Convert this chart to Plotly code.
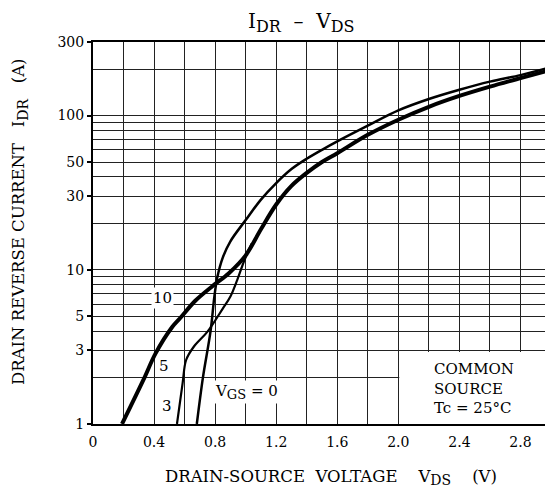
import plotly.graph_objects as go

# VGS = 10 / 5 (overlapping thick curve)
vds_10 = [0.19, 0.33, 0.41, 0.52, 0.57, 0.67, 0.78, 0.89, 1.00, 1.10, 1.20, 1.30, 1.40, 1.50, 1.60, 1.80, 2.00, 2.20, 2.40, 2.60, 2.80, 3.00]
idr_10 = [1.0, 1.93, 2.87, 4.27, 4.85, 6.3, 7.8, 9.5, 12.4, 18.3, 26.5, 35, 42.5, 50, 57, 75, 94, 114, 134, 154, 175, 198]
# VGS = 3
vds_3 = [0.55, 0.587, 0.61, 0.66, 0.75, 0.85, 0.90, 0.945, 0.99, 1.04]
idr_3 = [1.0, 1.84, 2.6, 3.17, 3.97, 5.6, 6.7, 8.6, 11.4, 14.8]
# VGS = 0
vds_0 = [0.68, 0.72, 0.77, 0.795, 0.815, 0.85, 0.90, 1.00, 1.10, 1.20, 1.30, 1.40, 1.50, 1.60, 1.80, 2.00, 2.20, 2.40, 2.60, 2.80, 3.00]
idr_0 = [1.0, 2.0, 4.0, 6.7, 9.0, 12.0, 15.3, 21, 28.5, 36.5, 45, 52.5, 60, 68, 86, 108, 128, 147, 166, 183, 206]

x_ticks = [0, 0.4, 0.8, 1.2, 1.6, 2.0, 2.4, 2.8]
x_ticktext = ["0", "0.4", "0.8", "1.2", "1.6", "2.0", "2.4", "2.8"]
y_ticks = [1, 3, 5, 10, 30, 50, 100, 300]
y_minor = [2, 4, 6, 7, 8, 9, 20, 40, 60, 70, 80, 90, 200]

FONT = "DejaVu Serif"

fig = go.Figure()
fig.add_trace(go.Scatter(x=vds_10, y=idr_10, mode="lines", line=dict(color="black", width=4, shape="spline", smoothing=1.0)))
fig.add_trace(go.Scatter(x=vds_3, y=idr_3, mode="lines", line=dict(color="black", width=2.2, shape="spline", smoothing=1.0)))
fig.add_trace(go.Scatter(x=vds_0, y=idr_0, mode="lines", line=dict(color="black", width=2.5, shape="spline", smoothing=1.0)))

fig.update_layout(
    width=545, height=483,
    margin=dict(l=85, r=0, t=34, b=67),
    paper_bgcolor="white", plot_bgcolor="white",
    showlegend=False,
    font=dict(family=FONT, size=14, color="black"),
)
fig.update_xaxes(
    range=[0, 3.0], tickvals=x_ticks, ticktext=x_ticktext,
    showgrid=True, gridcolor="#222", gridwidth=1,
    minor=dict(dtick=0.2, tick0=0, showgrid=True, gridcolor="#222", gridwidth=1),
    showline=True, linecolor="black", linewidth=2, mirror=True,
    ticks="", ticklabelstandoff=4, zeroline=False,
    tickfont=dict(family=FONT, size=14),
)
fig.update_yaxes(
    type="log", range=[0, 2.4771],
    tickvals=y_ticks, ticktext=[str(v) for v in y_ticks],
    showgrid=True, gridcolor="#222", gridwidth=1,
    minor=dict(tickvals=y_minor, showgrid=True, gridcolor="#222", gridwidth=1),
    showline=True, linecolor="black", linewidth=2, mirror=True,
    ticks="outside", ticklen=4, tickcolor="black", tickwidth=1.5,
    tickfont=dict(family=FONT, size=14), zeroline=False,
)

# white box behind the note
fig.add_shape(type="rect", xref="x", yref="y", x0=2.006, x1=3.0, y0=1.0, y1=2.93,
              fillcolor="white", line=dict(width=0), layer="between")


def sub(s, size):
    return "<sub><span style='font-size:%dpx'>%s</span></sub>" % (size, s)


ann = [
    dict(text="I" + sub("DR", 16) + "  –  V" + sub("DS", 16), x=0.454, y=1.05, font=dict(size=20)),
    dict(text="DRAIN-SOURCE  VOLTAGE    V" + sub("DS", 14) + "    (V)", x=0.52, y=-0.141, font=dict(size=16.5)),
    dict(text="DRAIN REVERSE CURRENT   I" + sub("DR", 14) + "   (A)", x=-0.159, y=0.529, textangle=-90, font=dict(size=16.5)),
]
for a in ann:
    fig.add_annotation(xref="paper", yref="paper", showarrow=False, xanchor="center", yanchor="middle", **a)

labels = [
    dict(text="10", x=0.457, y=0.815),
    dict(text="5", x=0.462, y=0.376),
    dict(text="3", x=0.483, y=0.117),
    dict(text="V" + sub("GS", 13) + " = 0", x=1.005, y=0.21),
]
for a in labels:
    fig.add_annotation(xref="x", yref="y", showarrow=False, bgcolor="white", borderpad=1,
                       font=dict(size=15), **a)

fig.add_annotation(xref="x", yref="y", x=2.22, y=0.227, xanchor="left", yanchor="middle", align="left",
                   showarrow=False, text="COMMON<br>SOURCE<br>Tc = 25°C", font=dict(size=15))

fig.write_html("out.html")
